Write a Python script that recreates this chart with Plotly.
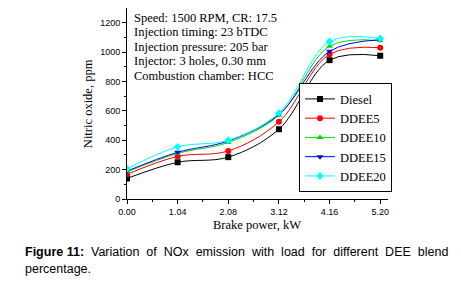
import plotly.graph_objects as go

power = [0.00, 1.04, 2.08, 3.12, 4.16, 5.20]
power_labels = ["0.00", "1.04", "2.08", "3.12", "4.16", "5.20"]
diesel = [140, 250, 285, 475, 945, 975]
ddee5 = [168, 290, 327, 525, 985, 1030]
ddee10 = [185, 310, 385, 570, 1040, 1078]
ddee15 = [190, 318, 395, 575, 1005, 1084]
ddee20 = [205, 355, 400, 585, 1072, 1092]
y_ticks = [0, 200, 400, 600, 800, 1000, 1200]

series = [
    ("Diesel", diesel, "black", "square"),
    ("DDEE5", ddee5, "red", "circle"),
    ("DDEE10", ddee10, "#00e000", "triangle-up"),
    ("DDEE15", ddee15, "blue", "triangle-down"),
    ("DDEE20", ddee20, "cyan", "diamond"),
]

# page body has an 8px margin; figure coordinates = screen - 8
W, H = 453, 277
L, T, R, B = 119, 0, 380, 190.7


def px(xs):
    return (xs - 8 - L) / (R - L)


def py(ys):
    return (B - (ys - 8)) / (B - T)


fig = go.Figure()
for name, vals, col, sym in series:
    fig.add_trace(go.Scatter(
        x=power, y=vals, name=name, mode="lines+markers",
        line=dict(color=col, width=1, shape="spline", smoothing=1.0),
        marker=dict(color=col, symbol=sym, size=6),
    ))

serif = "Liberation Serif, Times New Roman, serif"
sans = "Liberation Sans, Arial, sans-serif"

fig.update_layout(
    width=W, height=H,
    margin=dict(l=L, r=W - R, t=T, b=H - B),
    paper_bgcolor="white", plot_bgcolor="white",
    showlegend=True,
    legend=dict(
        x=px(299), y=py(192), xanchor="left", yanchor="bottom",
        bordercolor="black", borderwidth=1, bgcolor="white",
        font=dict(family=serif, size=12.5, color="black"),
        tracegroupgap=0, itemwidth=30,
    ),
    xaxis=dict(
        range=[0, 5.36], tickvals=power, ticktext=power_labels,
        showgrid=False, zeroline=False, showline=True, linecolor="black", linewidth=1,
        ticks="outside", ticklen=4, tickcolor="black",
        minor=dict(tickvals=[0.52, 1.56, 2.6, 3.64, 4.68], ticks="outside", ticklen=2, tickcolor="black"),
        tickfont=dict(family=sans, size=9, color="black"),
    ),
    yaxis=dict(
        range=[0, 1300], tickvals=y_ticks,
        showgrid=False, zeroline=False, showline=True, linecolor="black", linewidth=1,
        ticks="outside", ticklen=4, tickcolor="black",
        minor=dict(tickvals=[100, 300, 500, 700, 900, 1100], ticks="outside", ticklen=2, tickcolor="black"),
        tickfont=dict(family=sans, size=9, color="black"),
    ),
)

# axis titles
fig.add_annotation(text="Brake power, kW", xref="paper", yref="paper", x=px(257), y=py(225),
                   xanchor="center", yanchor="middle", showarrow=False,
                   font=dict(family=serif, size=12.5, color="black"))
fig.add_annotation(text="Nitric oxide, ppm", xref="paper", yref="paper", x=px(88), y=py(104),
                   xanchor="center", yanchor="middle", showarrow=False, textangle=-90,
                   font=dict(family=serif, size=12.5, color="black"))

info = [
    "Speed: 1500 RPM, CR: 17.5",
    "Injection timing: 23 bTDC",
    "Injection pressure: 205 bar",
    "Injector: 3 holes, 0.30 mm",
    "Combustion chamber: HCC",
]
info_y = [17.6, 32.0, 46.6, 61.3, 76.0]
for line, yy in zip(info, info_y):
    fig.add_annotation(
        text=line, xref="paper", yref="paper", x=px(132), y=py(yy),
        xanchor="left", yanchor="middle", align="left", showarrow=False,
        font=dict(family=serif, size=12.5, color="black"),
    )

cap1 = "<b>Figure 11:</b> Variation of NOx emission with load for different DEE blend"
cap1 = cap1.replace(" ", "&nbsp;&nbsp;")
cap1 = cap1.replace("<b>Figure&nbsp;&nbsp;11:", "<b>Figure 11:")
fig.add_annotation(
    text=cap1,
    xref="paper", yref="paper", x=px(23), y=py(252),
    xanchor="left", yanchor="middle", align="left", showarrow=False,
    font=dict(family=sans, size=12.5, color="black"),
)
fig.add_annotation(
    text="percentage.",
    xref="paper", yref="paper", x=px(23), y=py(269),
    xanchor="left", yanchor="middle", align="left", showarrow=False,
    font=dict(family=sans, size=12.5, color="black"),
)

fig.write_html("out.html")
